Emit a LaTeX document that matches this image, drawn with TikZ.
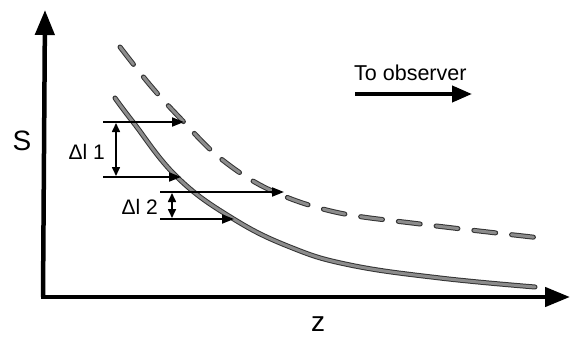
\documentclass[tikz,border=0pt]{standalone}
\usepackage{fontspec}
\setmainfont{Liberation Sans}
\usetikzlibrary{arrows.meta}

\begin{document}
\begin{tikzpicture}[
    x=1pt, y=-1pt,
    axis/.style={line width=4.5pt, -{Triangle[length=25pt, width=19pt]}},
    arr/.style={line width=2pt, -{Triangle[length=12pt, width=9pt]}},
    dim/.style={line width=1.6pt, {Triangle[length=9pt, width=8pt]}-{Triangle[length=9pt, width=8pt]}},
    curve/.style={line width=1pt, draw=black!80, double=black!45, double distance=3pt, line cap=round},
    lbl/.style={font=\fontsize{21}{23}\selectfont, inner sep=0pt},
]
\useasboundingbox (0,0) rectangle (575,342);

% axes
\coordinate (orig) at (43,297);
\coordinate (ytip) at (45,10);
\coordinate (xtip) at (570,297);
\draw[axis] (orig) -- (ytip);
\draw[axis] ([xshift=-2.2pt]orig) -- (xtip);
\node[lbl, font=\fontsize{28}{30}\selectfont] (ylab) at (22,141) {S};
\node[lbl, font=\fontsize{28}{30}\selectfont] (xlab) at (318,324) {z};

% curves
\draw[curve, dash pattern=on 22pt off 16pt] plot[smooth, tension=0.6] coordinates
    {(120,47) (150,85) (180,118) (220,158) (270,190) (335,212) (420,224) (541,238)};
\draw[curve] plot[smooth, tension=0.7] coordinates
    {(115,98) (133,122) (177,177) (232,218) (290,247) (350,265) (440,278) (535,287)};

% to observer
\node[lbl, anchor=west, font=\fontsize{21.5}{23}\selectfont] (obs) at (354,73) {To observer};
\coordinate (o1) at (355,94);
\coordinate (o2) at (472,94);
\draw[line width=4pt, -{Triangle[length=20pt, width=16pt]}] (o1) -- (o2);

% rays
\coordinate (a1) at (103,122);  \coordinate (b1) at (184,122);
\coordinate (a2) at (103,177);  \coordinate (b2) at (181,177);
\coordinate (a3) at (160,192);  \coordinate (b3) at (284,192);
\coordinate (a4) at (160,219);  \coordinate (b4) at (234,219);
\draw[arr] (a1) -- (b1);
\draw[arr] (a2) -- (b2);
\draw[arr] (a3) -- (b3);
\draw[arr] (a4) -- (b4);

% path differences
\coordinate (d1) at (116,123);  \coordinate (e1) at (116,176);
\coordinate (d2) at (172,193);  \coordinate (e2) at (172,218);
\draw[dim] (d1) -- (e1);
\draw[dim] (d2) -- (e2);
\node[lbl, anchor=east] (dl1) at (105,152) {Δl 1};
\node[lbl, anchor=east] (dl2) at (158,207) {Δl 2};
\end{tikzpicture}
\end{document}
